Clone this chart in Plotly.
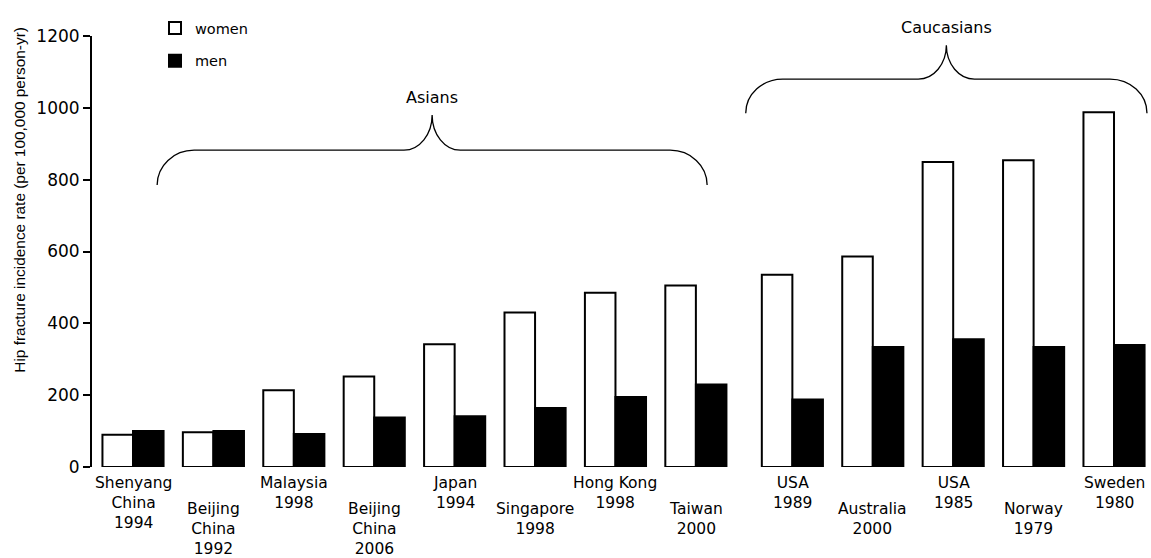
import plotly.graph_objects as go

# ---------------- data ----------------
categories = ["Shenyang<br>China<br>1994", "Beijing<br>China<br>1992", "Malaysia<br>1998",
              "Beijing<br>China<br>2006", "Japan<br>1994", "Singapore<br>1998",
              "Hong Kong<br>1998", "Taiwan<br>2000", "USA<br>1989", "Australia<br>2000",
              "USA<br>1985", "Norway<br>1979", "Sweden<br>1980"]
women = [90, 97, 214, 252, 342, 430, 485, 505, 535, 586, 849, 854, 988]
men = [100, 100, 92, 138, 141, 164, 195, 230, 188, 334, 356, 334, 340]
ethnic_groups = ["Asians", "Caucasians"]
group_sizes = [8, 5]
y_ticks = [0, 200, 400, 600, 800, 1000, 1200]

# ---------------- layout helpers ----------------
GROUP_GAP = 0.2
pos = []
for g, n in enumerate(group_sizes):
    start = len(pos)
    pos += [start + k + GROUP_GAP * g for k in range(n)]

W, H = 1151, 558
L, T, B = 92, 36, 91
PW, PH = W - L, H - T - B

H_FONT = "DejaVu Sans, Arial, sans-serif"
V_FONT = "Liberation Sans, Arial, sans-serif"

fig = go.Figure()
fig.add_trace(go.Bar(x=pos, y=women, name="women", legendgroup="w",
                     marker=dict(color="white", line=dict(color="black", width=2))))
fig.add_trace(go.Bar(x=pos, y=men, name="men", legendgroup="m",
                     marker=dict(color="black", line=dict(color="black", width=2))))

annotations = []
# staggered category labels
for i, (p, lab) in enumerate(zip(pos, categories)):
    annotations.append(dict(x=p, y=0, xref="x", yref="y", text=lab, showarrow=False,
                            xanchor="center", yanchor="top",
                            yshift=-5 - (26 if i % 2 else 0),
                            font=dict(family=H_FONT, size=15.5, color="black")))

# braces (x extent, y end / line / tip in data units)
brace_geom = [
    dict(x0=pos[0] + 0.30, x1=pos[7] + 0.14, y_end=785, y_line=882, y_tip=980),
    dict(x0=pos[8] - 0.58, x1=pos[12] + 0.41, y_end=985, y_line=1080, y_tip=1174),
]
CW, MW, K = 0.46, 0.35, 0.5523
shapes = []
for name, b in zip(ethnic_groups, brace_geom):
    x0, x1 = b["x0"], b["x1"]
    xm = (x0 + x1) / 2
    ye, yl, yt = b["y_end"], b["y_line"], b["y_tip"]
    path = (f"M{x0},{ye} "
            f"C{x0},{ye + K * (yl - ye)} {x0 + CW - K * CW},{yl} {x0 + CW},{yl} "
            f"L{xm - MW},{yl} "
            f"C{xm - MW + K * MW},{yl} {xm},{yt - K * (yt - yl)} {xm},{yt} "
            f"C{xm},{yt - K * (yt - yl)} {xm + MW - K * MW},{yl} {xm + MW},{yl} "
            f"L{x1 - CW},{yl} "
            f"C{x1 - CW + K * CW},{yl} {x1},{ye + K * (yl - ye)} {x1},{ye}")
    shapes.append(dict(type="path", path=path, xref="x", yref="y",
                       line=dict(color="black", width=1.3)))
    annotations.append(dict(x=xm, y=yt, xref="x", yref="y", text=name, showarrow=False,
                            xanchor="center", yanchor="bottom", yshift=6,
                            font=dict(family=H_FONT, size=16, color="black")))

# y-axis title
annotations.append(dict(x=0, y=(467.3 - 200) / PH, xref="paper", yref="paper", xshift=-72,
                        text="Hip fracture incidence rate (per 100,000 person-yr)",
                        textangle=-90, showarrow=False, xanchor="center", yanchor="middle",
                        font=dict(family=V_FONT, size=15.4, color="black")))

fig.update_layout(
    width=W, height=H,
    margin=dict(l=L, r=0, t=T, b=B),
    paper_bgcolor="white", plot_bgcolor="white",
    barmode="group", bargap=0.24, bargroupgap=0,
    showlegend=True,
    legend=dict(x=(155 - L) / PW, y=1 + (T - 12) / PH, xanchor="left", yanchor="top",
                bgcolor="rgba(0,0,0,0)", traceorder="grouped", tracegroupgap=11,
                font=dict(family=H_FONT, size=14.5, color="black")),
    xaxis=dict(range=[-0.51, 12.66], showline=False, showticklabels=False, ticks="",
               showgrid=False, zeroline=False, fixedrange=True),
    yaxis=dict(range=[0, 1200], tickvals=y_ticks, showline=True, linecolor="black",
               linewidth=2, ticks="outside", ticklen=7, tickwidth=2, tickcolor="black",
               showgrid=False, zeroline=False,
               tickfont=dict(family=H_FONT, size=17, color="black")),
    shapes=shapes,
    annotations=annotations,
)

fig.write_html("out.html",
               config={"displayModeBar": False},
               post_script="document.body.style.margin='0';"
                           "document.body.style.overflow='hidden';")
